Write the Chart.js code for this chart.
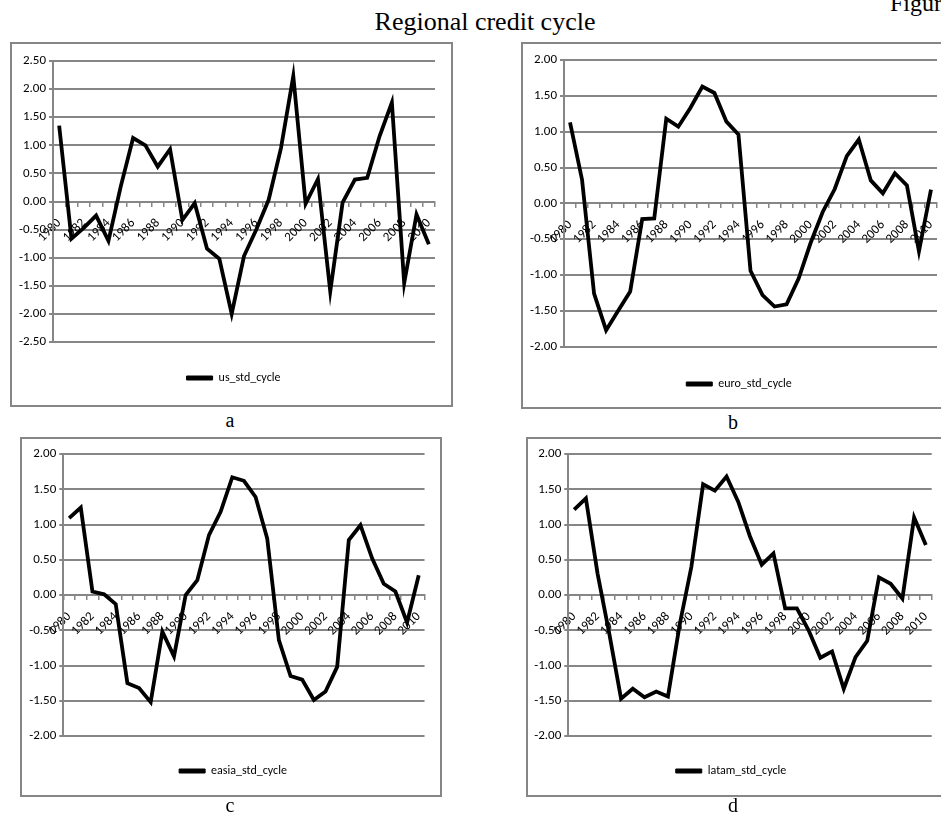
<!DOCTYPE html>
<html>
<head>
<meta charset="utf-8">
<script src="https://cdn.jsdelivr.net/npm/chart.js@4.4.1/dist/chart.umd.min.js"></script>
<style>
  html, body { margin: 0; padding: 0; background: #fff; overflow: hidden; width: 941px; height: 816px; position: relative; }
  .frame { position: absolute; border: 2px solid #868686; box-sizing: border-box; }
  .plot { position: absolute; }
  .serif { position: absolute; font-family: 'Liberation Serif', 'Times New Roman', serif; color: #000; white-space: nowrap; }
</style>
</head>
<body>
<div class="serif" style="left:890px; top:-9px; font-size:24px; line-height:24px;">Figure</div>
<div class="serif" style="left:285px; top:9px; width:400px; text-align:center; font-size:26px; line-height:26px;">Regional credit cycle</div>

<div class="frame" style="left:10px; top:42px; width:443px; height:365px;"></div>
<div class="frame" style="left:521px; top:42px; width:443px; height:367px;"></div>
<div class="frame" style="left:20px; top:437px; width:422px; height:360px;"></div>
<div class="frame" style="left:526px; top:437px; width:440px; height:360px;"></div>

<canvas id="panelA" class="plot"></canvas>
<canvas id="panelB" class="plot"></canvas>
<canvas id="panelC" class="plot"></canvas>
<canvas id="panelD" class="plot"></canvas>

<div class="serif" style="left:220px; top:410px; width:20px; text-align:center; font-size:20px; line-height:20px;">a</div>
<div class="serif" style="left:723px; top:412px; width:20px; text-align:center; font-size:20px; line-height:20px;">b</div>
<div class="serif" style="left:220px; top:795px; width:20px; text-align:center; font-size:20px; line-height:20px;">c</div>
<div class="serif" style="left:723px; top:795px; width:20px; text-align:center; font-size:20px; line-height:20px;">d</div>

<script>
// Years on the category axis
const years = [];
for (let y = 1980; y <= 2010; y++) years.push(String(y));

// Standardised credit cycle per region, 1980-2010
const usStdCycle = [1.35, -0.66, -0.47, -0.25, -0.70, 0.27, 1.13, 1.00, 0.62, 0.93,
  -0.33, -0.03, -0.84, -1.02, -2.00, -0.97, -0.50, 0.03, 0.95, 2.23,
  -0.04, 0.40, -1.60, -0.02, 0.39, 0.42, 1.16, 1.76, -1.45, -0.23, -0.76];

const euroStdCycle = [1.13, 0.33, -1.26, -1.77, -1.50, -1.23, -0.22, -0.21, 1.18, 1.07,
  1.33, 1.63, 1.54, 1.14, 0.96, -0.94, -1.28, -1.44, -1.41, -1.05,
  -0.55, -0.12, 0.20, 0.66, 0.89, 0.32, 0.14, 0.42, 0.25, -0.67, 0.19];

const easiaStdCycle = [1.09, 1.24, 0.05, 0.01, -0.13, -1.25, -1.32, -1.52, -0.52, -0.87,
  0.00, 0.21, 0.85, 1.18, 1.67, 1.62, 1.39, 0.80, -0.64, -1.15,
  -1.20, -1.49, -1.37, -1.02, 0.78, 0.99, 0.52, 0.16, 0.05, -0.39, 0.28];

const latamStdCycle = [1.21, 1.37, 0.30, -0.55, -1.47, -1.33, -1.45, -1.37, -1.44, -0.42,
  0.40, 1.57, 1.48, 1.68, 1.32, 0.83, 0.43, 0.59, -0.19, -0.19,
  -0.50, -0.89, -0.80, -1.33, -0.88, -0.65, 0.25, 0.16, -0.05, 1.10, 0.71];

const GRID = '#868686';
const SANS = "Carlito, Lato, 'Liberation Sans', sans-serif";
const LEGEND_FONT = 12;

// Page geometry of each panel: canvas rectangle, plot area, legend centre
const panels = [
  { id: 'panelA', name: 'us_std_cycle', values: usStdCycle, yMin: -2.5, yMax: 2.5,
    canvas: [12, 44, 439, 361], area: [53, 61, 435, 342], legend: [233.5, 378] },
  { id: 'panelB', name: 'euro_std_cycle', values: euroStdCycle, yMin: -2, yMax: 2,
    canvas: [523, 44, 437, 363], area: [564, 60, 937, 346.7], legend: [739, 384] },
  { id: 'panelC', name: 'easia_std_cycle', values: easiaStdCycle, yMin: -2, yMax: 2,
    canvas: [22, 439, 418, 356], area: [63.3, 454, 425, 736], legend: [233, 771] },
  { id: 'panelD', name: 'latam_std_cycle', values: latamStdCycle, yMin: -2, yMax: 2,
    canvas: [528, 439, 432, 356], area: [568.3, 454, 931.7, 736], legend: [731, 771] }
];

// Moves the legend block sideways so its centre sits at a chosen x
const legendCentre = {
  id: 'legendCentre',
  afterLayout(chart, args, opts) {
    const lg = chart.legend;
    if (!lg || opts.x == null) return;
    const dx = opts.x - (lg.left + lg.right) / 2;
    lg.left += dx;
    lg.right += dx;
  }
};

panels.forEach(p => {
  const [cx, cy, cw, ch] = p.canvas;
  const [l, t, r, b] = p.area;
  const [lx, ly] = p.legend;
  const el = document.getElementById(p.id);
  el.width = cw; el.height = ch;
  el.style.left = cx + 'px'; el.style.top = cy + 'px';
  el.style.width = cw + 'px'; el.style.height = ch + 'px';

  const yWidth = l - cx;
  const padR = cx + cw - r;
  const padT = t - cy;
  const legPad = ly - b - LEGEND_FONT / 2;
  const legHeight = LEGEND_FONT + legPad + 10;
  const padB = (cy + ch) - b - legHeight;

  new Chart(el, {
    type: 'line',
    data: {
      labels: years,
      datasets: [{
        label: p.name,
        data: p.values,
        borderColor: '#000',
        backgroundColor: '#000',
        borderWidth: 3.8,
        pointRadius: 0,
        tension: 0,
        fill: false
      }]
    },
    plugins: [legendCentre],
    options: {
      responsive: false,
      animation: false,
      events: [],
      layout: { autoPadding: false, padding: { left: 0, right: padR, top: padT, bottom: padB } },
      plugins: {
        tooltip: { enabled: false },
        legendCentre: { x: lx - cx },
        legend: {
          position: 'bottom',
          labels: {
            boxWidth: 26,
            boxHeight: 4,
            padding: legPad,
            color: '#000',
            font: { family: SANS, size: LEGEND_FONT },
            generateLabels: chart => Chart.defaults.plugins.legend.labels.generateLabels(chart)
              .map(item => Object.assign(item, { lineWidth: 1, strokeStyle: '#000', fillStyle: '#000' }))
          }
        }
      },
      scales: {
        x: {
          type: 'category',
          position: { y: 0 },
          offset: true,
          afterFit: s => { s.height = 0; },
          grid: { drawOnChartArea: false, drawTicks: true, tickLength: 4, offset: true, color: GRID, lineWidth: 1.5 },
          border: { display: true, color: GRID, width: 2 },
          ticks: {
            autoSkip: false, minRotation: 45, maxRotation: 45, padding: 10,
            color: '#000', font: { family: SANS, size: 13 },
            callback: (v, i) => (i % 2 === 0 ? years[i] : '')
          }
        },
        y: {
          min: p.yMin,
          max: p.yMax,
          afterFit: s => { s.width = yWidth; },
          grid: { color: GRID, lineWidth: 2, drawTicks: true, tickLength: 4 },
          border: { display: true, color: GRID, width: 2 },
          ticks: {
            stepSize: 0.5, padding: 3, color: '#000',
            font: { family: SANS, size: 13 },
            callback: v => Number(v).toFixed(2)
          }
        }
      }
    }
  });
});
</script>
</body>
</html>
